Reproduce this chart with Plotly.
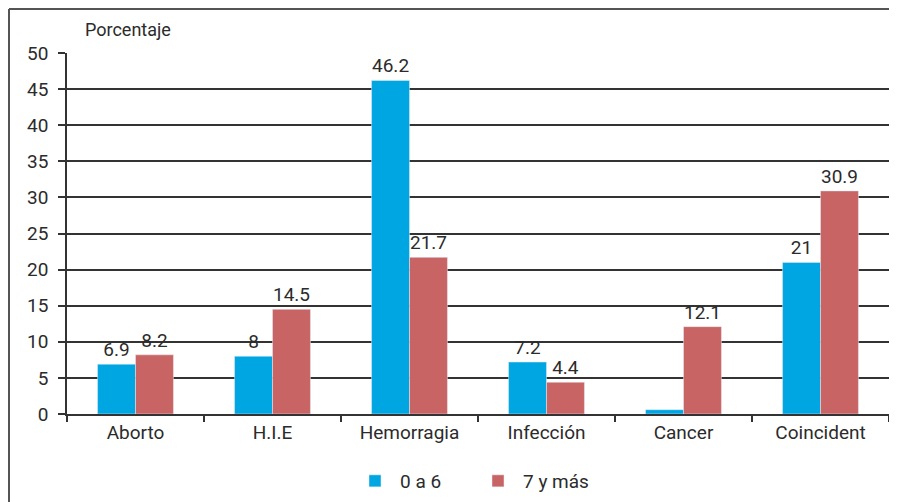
import plotly.graph_objects as go

categories = ["Aborto", "H.I.E", "Hemorragia", "Infección", "Cancer", "Coincident"]
serie_0a6 = [6.9, 8, 46.2, 7.2, 0.6, 21]
serie_7mas = [8.2, 14.5, 21.7, 4.4, 12.1, 30.9]
labels_0a6 = ["6.9", "8", "46.2", "7.2", "", "21"]
labels_7mas = ["8.2", "14.5", "21.7", "4.4", "12.1", "30.9"]
y_ticks = [0, 5, 10, 15, 20, 25, 30, 35, 40, 45, 50]

FONT = "Roboto, Liberation Sans Narrow, sans-serif"
TXT = "#2b2b2b"

fig = go.Figure()
fig.add_trace(go.Bar(x=categories, y=serie_0a6, name="0 a 6", marker_color="#00a6e2",
                     text=labels_0a6, textposition="outside", cliponaxis=False,
                     textfont=dict(size=19, color=TXT, family=FONT)))
fig.add_trace(go.Bar(x=categories, y=serie_7mas, name="7 y más", marker_color="#c96464",
                     text=labels_7mas, textposition="outside", cliponaxis=False,
                     textfont=dict(size=19, color=TXT, family=FONT)))

OFF = 8  # page body margin offset
W, H = 897, 502
L, T = 67 - OFF, 53 - OFF
pw, ph = 822, 361
R = W - L - pw
B = H - T - ph

def px(x):
    return (x - OFF - L) / pw

def py(y):
    return (T + ph - (y - OFF)) / ph

fig.update_layout(
    width=W, height=H,
    margin=dict(l=L, r=R, t=T, b=B, autoexpand=False),
    paper_bgcolor="white", plot_bgcolor="white",
    font=dict(family=FONT, size=18, color=TXT),
    barmode="group", bargap=0.446, bargroupgap=0,
    showlegend=True,
    legend=dict(orientation="h", x=px(350), xanchor="left", yref="container",
                y=(H - (481 - OFF)) / H, yanchor="middle",
                font=dict(size=19, color=TXT, family=FONT), itemwidth=40,
                entrywidth=68, entrywidthmode="pixels",
                traceorder="normal"),
    xaxis=dict(type="category", tickson="boundaries", ticks="outside", ticklen=6,
               tickcolor="#333", tickwidth=1.5, showline=True, linecolor="#333", linewidth=1.5,
               showgrid=False, automargin=False, tickfont=dict(size=19, color=TXT, family=FONT)),
    yaxis=dict(range=[0, 50], tickvals=y_ticks, ticks="outside", ticklen=7, tickcolor="#333",
               tickwidth=1.5, showgrid=True, gridcolor="#333", gridwidth=1.5,
               showline=True, linecolor="#333", linewidth=1.5, zeroline=False, automargin=False,
               tickfont=dict(size=19, color=TXT, family=FONT), ticklabelstandoff=6),
    shapes=[
        dict(type="line", xref="paper", yref="paper", x0=px(9), x1=px(9), y0=py(9), y1=py(510),
             line=dict(color="#555", width=2)),
        dict(type="line", xref="paper", yref="paper", x0=px(9), x1=px(897), y0=py(9), y1=py(9),
             line=dict(color="#555", width=2)),
    ],
    annotations=[
        dict(text="Porcentaje", xref="paper", yref="paper", x=px(83), y=py(30),
             xanchor="left", yanchor="middle", showarrow=False,
             font=dict(size=18, color=TXT, family=FONT)),
    ],
)

fig.write_html("out.html")
